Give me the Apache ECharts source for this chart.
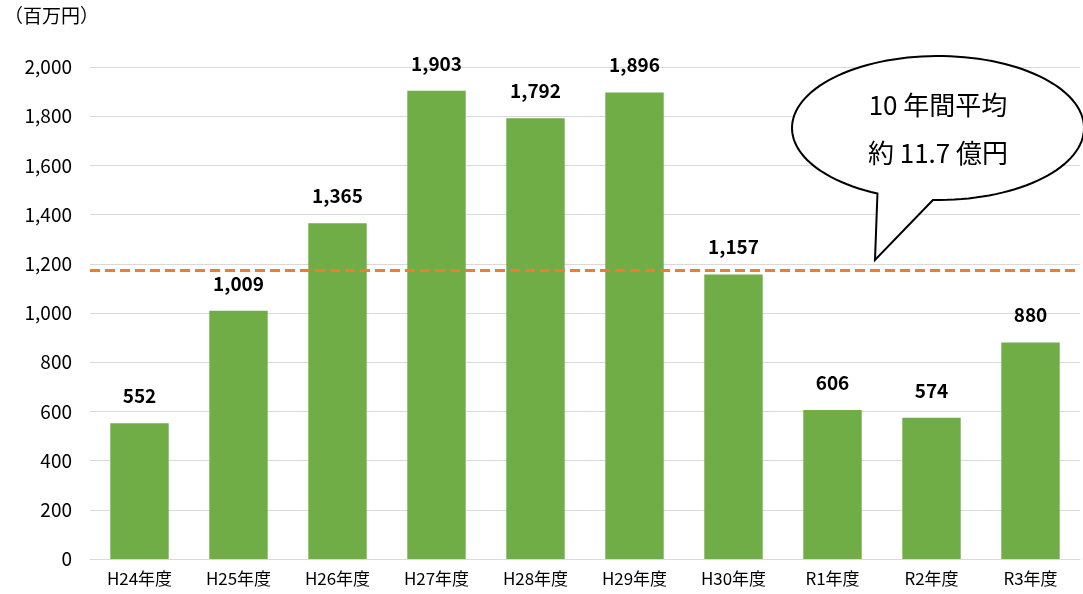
<!DOCTYPE html>
<html>
<head>
<meta charset="utf-8">
<script src="https://cdn.jsdelivr.net/npm/echarts@6/dist/echarts.min.js"></script>
<style>
html,body{margin:0;padding:0;background:#fff;}
#chart{width:1083px;height:594px;}
</style>
</head>
<body>
<div id="chart"></div>
<script>
// 年度別の金額（百万円）
const categories = ['H24年度','H25年度','H26年度','H27年度','H28年度','H29年度','H30年度','R1年度','R2年度','R3年度'];
const amounts = [552, 1009, 1365, 1903, 1792, 1896, 1157, 606, 574, 880];
const yTicks = { min: 0, max: 2000, interval: 200 };
const unitLabel = '（百万円）';
const calloutLines = ['10 年間平均', '約 11.7 億円'];

const average = amounts.reduce((a, b) => a + b, 0) / amounts.length;
const FONT = '"Noto Sans CJK JP", "Noto Sans", sans-serif';

// 吹き出しの輪郭：楕円の弧＋しっぽの先端
function bubbleOutline(cx, cy, rx, ry, fromDeg, toDeg, tip) {
  const pts = [];
  const steps = 120;
  for (let i = 0; i <= steps; i++) {
    const a = (fromDeg + (toDeg - fromDeg) * i / steps) * Math.PI / 180;
    pts.push([cx + rx * Math.cos(a), cy + ry * Math.sin(a)]);
  }
  pts.push(tip);
  return pts;
}
const bubblePoints = bubbleOutline(938, 128, 146, 72, 114.5, 452, [875, 260]);

const chart = echarts.init(document.getElementById('chart'));
chart.setOption({
  backgroundColor: '#fff',
  animation: false,
  grid: { left: 90, right: 3, top: 67, bottom: 35 },
  xAxis: {
    type: 'category',
    data: categories,
    axisLine: { lineStyle: { color: '#d9d9d9', width: 1 } },
    axisTick: { show: false },
    axisLabel: { color: '#000', fontFamily: FONT, fontSize: 17, margin: 11 }
  },
  yAxis: {
    type: 'value',
    min: yTicks.min, max: yTicks.max, interval: yTicks.interval,
    axisLine: { show: false },
    axisTick: { show: false },
    splitLine: { lineStyle: { color: '#d9d9d9', width: 1 } },
    axisLabel: {
      color: '#000', fontFamily: FONT, fontSize: 19, margin: 18,
      formatter: v => v.toLocaleString('en-US')
    }
  },
  graphic: [
    {
      type: 'text', left: 4, top: 6,
      style: { text: unitLabel, fill: '#000', font: '19px ' + FONT }
    },
    {
      type: 'polygon',
      z: 100,
      shape: { points: bubblePoints },
      style: { fill: '#fff', stroke: '#000', lineWidth: 2, lineJoin: 'miter' }
    },
    {
      type: 'text', z: 101, x: 938, y: 105,
      style: { text: calloutLines[0], fill: '#000', font: '26px ' + FONT, align: 'center', verticalAlign: 'middle' }
    },
    {
      type: 'text', z: 101, x: 938, y: 153,
      style: { text: calloutLines[1], fill: '#000', font: '26px ' + FONT, align: 'center', verticalAlign: 'middle' }
    }
  ],
  series: [{
    type: 'bar',
    data: amounts,
    barCategoryGap: '41%',
    itemStyle: { color: '#70ad47' },
    label: {
      show: true, position: 'top', distance: 18,
      color: '#000', fontFamily: FONT, fontSize: 19, fontWeight: 'bold',
      formatter: p => p.value.toLocaleString('en-US')
    },
    markLine: {
      silent: true,
      symbol: 'none',
      label: { show: false },
      lineStyle: { color: '#ed7d31', type: [10, 5], width: 3 },
      data: [{ yAxis: average }]
    }
  }]
});
</script>
</body>
</html>
